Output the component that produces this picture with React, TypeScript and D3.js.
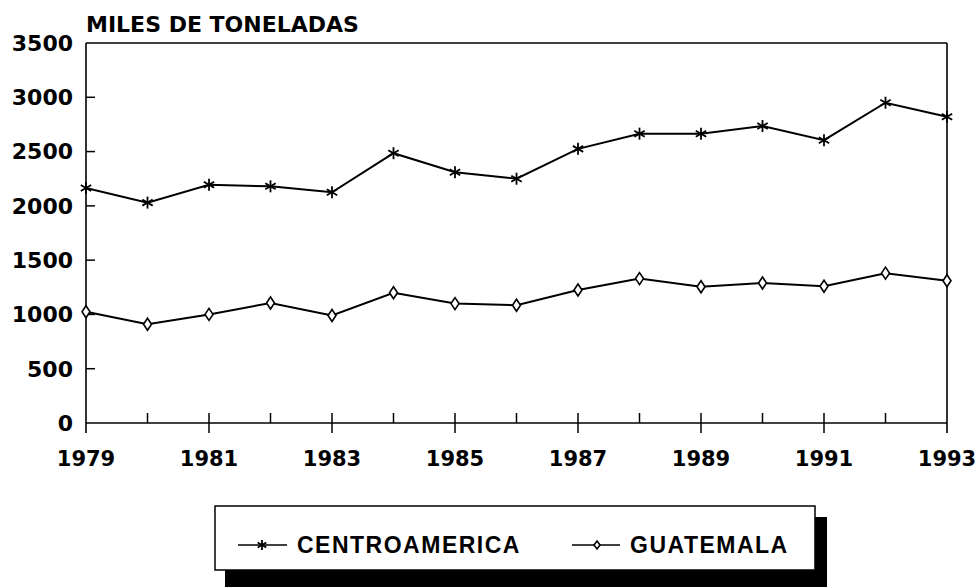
import React from "react";
import * as d3 from "d3";

const years = [1979, 1980, 1981, 1982, 1983, 1984, 1985, 1986, 1987, 1988, 1989, 1990, 1991, 1992, 1993];
const centroamerica = [2165, 2030, 2195, 2180, 2125, 2485, 2310, 2250, 2525, 2665, 2665, 2735, 2605, 2950, 2820];
const guatemala = [1025, 910, 1000, 1105, 990, 1200, 1100, 1085, 1225, 1330, 1255, 1290, 1260, 1380, 1310];
const yTicks = [0, 500, 1000, 1500, 2000, 2500, 3000, 3500];
const xLabels = [1979, 1981, 1983, 1985, 1987, 1989, 1991, 1993];
const seriesNames = ["CENTROAMERICA", "GUATEMALA"];
const yTitle = "MILES DE TONELADAS";

const FONT = "'DejaVu Sans', sans-serif";
const LEGEND_FONT = "'Liberation Sans', Arial, sans-serif";

function Star({ x, y, r = 6 }: { x: number; y: number; r?: number }) {
  const a = r * 0.866;
  const b = r * 0.5;
  return (
    <g stroke="#000" strokeWidth={1.8}>
      <line x1={x} y1={y - r} x2={x} y2={y + r} />
      <line x1={x - a} y1={y - b} x2={x + a} y2={y + b} />
      <line x1={x - a} y1={y + b} x2={x + a} y2={y - b} />
    </g>
  );
}

function Diamond({ x, y, w = 4, h = 6 }: { x: number; y: number; w?: number; h?: number }) {
  return (
    <path
      d={`M${x},${y - h}L${x + w},${y}L${x},${y + h}L${x - w},${y}Z`}
      fill="#fff"
      stroke="#000"
      strokeWidth={1.6}
    />
  );
}

export default function App() {
  const W = 979, H = 587;
  const x = d3.scaleLinear().domain([1979, 1993]).range([86, 947]);
  const y = d3.scaleLinear().domain([0, 3500]).range([423, 43]);
  const line = d3
    .line<number>()
    .x((_, i) => x(years[i]))
    .y((d) => y(d));

  return (
    <svg
      width={W}
      height={H}
      style={{ position: "absolute", left: 0, top: 0, background: "#fff" }}
      fontFamily={FONT}
    >
      <rect x={0} y={0} width={W} height={H} fill="#fff" />
      {/* title */}
      <text x={86} y={32} fontSize={22} fontWeight="bold">{yTitle}</text>

      {/* frame */}
      <line x1={x(1979)} y1={y(3500)} x2={x(1993)} y2={y(3500)} stroke="#000" strokeWidth={1.4} />
      <line x1={x(1979)} y1={y(3500)} x2={x(1979)} y2={y(0) + 10} stroke="#000" strokeWidth={1.6} />
      <line x1={x(1993)} y1={y(3500)} x2={x(1993)} y2={y(0) + 10} stroke="#000" strokeWidth={1.6} />
      <line x1={x(1979)} y1={y(0)} x2={x(1993)} y2={y(0)} stroke="#000" strokeWidth={1.6} />

      {/* y ticks */}
      {yTicks.map((t) => (
        <g key={t}>
          {t > 0 && t < 3500 && (
            <line x1={x(1979)} x2={x(1979) + 9} y1={y(t)} y2={y(t)} stroke="#000" strokeWidth={1.5} />
          )}
          <text x={73} y={y(t)} dy="0.36em" textAnchor="end" fontSize={22} fontWeight="bold">
            {t}
          </text>
        </g>
      ))}

      {/* x ticks */}
      {years.map((yr) => {
        const odd = xLabels.includes(yr);
        if (yr === 1979 || yr === 1993) return null;
        return (
          <line
            key={yr}
            x1={x(yr)}
            x2={x(yr)}
            y1={y(0) - 10}
            y2={odd ? y(0) + 10 : y(0)}
            stroke="#000"
            strokeWidth={1.5}
          />
        );
      })}
      {xLabels.map((yr) => (
        <text key={yr} x={x(yr)} y={466} textAnchor="middle" fontSize={21} fontWeight="bold">
          {yr}
        </text>
      ))}

      {/* series */}
      <path d={line(centroamerica) || ""} fill="none" stroke="#000" strokeWidth={2} />
      <path d={line(guatemala) || ""} fill="none" stroke="#000" strokeWidth={2} />
      {centroamerica.map((v, i) => (
        <Star key={"c" + i} x={x(years[i])} y={y(v)} />
      ))}
      {guatemala.map((v, i) => (
        <Diamond key={"g" + i} x={x(years[i])} y={y(v)} />
      ))}

      {/* legend */}
      <rect x={225} y={517} width={602} height={70} fill="#000" />
      <rect x={215} y={506} width={600} height={64} fill="#fff" stroke="#000" strokeWidth={1.5} />
      <line x1={238} x2={287} y1={545} y2={545} stroke="#000" strokeWidth={1.6} />
      <Star x={262} y={545} r={5} />
      <text x={297} y={545} dy="0.36em" fontSize={23} fontWeight="bold" letterSpacing={1.5} fontFamily={LEGEND_FONT}>
        {seriesNames[0]}
      </text>
      <line x1={572} x2={620} y1={545} y2={545} stroke="#000" strokeWidth={1.6} />
      <Diamond x={597} y={545} w={3} h={4} />
      <text x={630} y={545} dy="0.36em" fontSize={23} fontWeight="bold" letterSpacing={1.5} fontFamily={LEGEND_FONT}>
        {seriesNames[1]}
      </text>
    </svg>
  );
}
